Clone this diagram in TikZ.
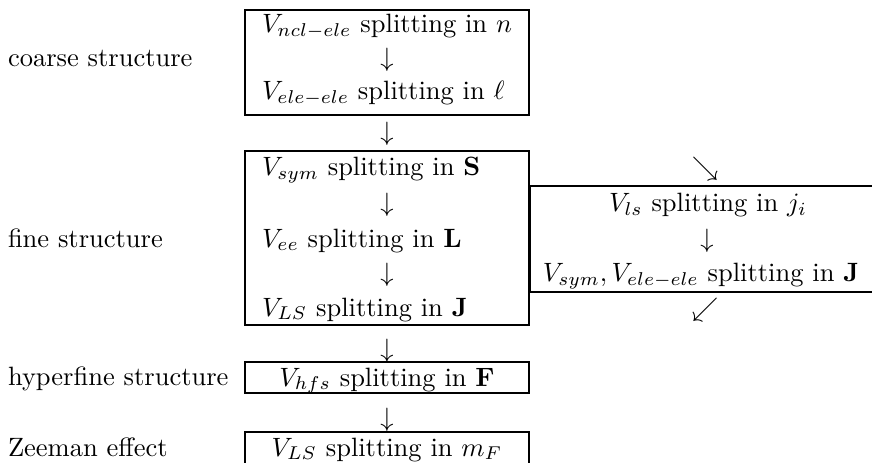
\documentclass[tikz,border=0pt]{standalone}
\usepackage{amsmath}
\usepackage{amssymb}

\begin{document}
\begin{tikzpicture}[x=0.3774pt,y=-0.3774pt,inner sep=0pt,outer sep=0pt,
  lbl/.style={anchor=base west},
  ctr/.style={anchor=base},
  frame/.style={line width=0.4pt}]
  \useasboundingbox (0,0) rectangle (872,463);
  % row labels
  \node[lbl] (coarse) at (8,67) {coarse structure};
  \node[lbl] (fine) at (8,247) {fine structure};
  \node[lbl] (hyper) at (8,385) {hyperfine structure};
  \node[lbl] (zeeman) at (8,456) {Zeeman effect};
  % coarse structure
  \draw[frame] (245,10) rectangle (529,115);
  \node[lbl] (ncl) at (262,33) {$V_{ncl-ele}$ splitting in $n$};
  \node[ctr] (arrA) at (387,67) {$\downarrow$};
  \node[lbl] (ele) at (262,100) {$V_{ele-ele}$ splitting in $\ell$};
  \node[ctr] (arrB) at (387,141) {$\downarrow$};
  % fine structure
  \draw[frame] (245,151) rectangle (529,325);
  \node[lbl] (sym) at (262,176) {$V_{sym}$ splitting in $\mathbf{S}$};
  \node[ctr] (arrC) at (387,212) {$\downarrow$};
  \node[lbl] (ee) at (262,247) {$V_{ee}$ splitting in $\mathbf{L}$};
  \node[ctr] (arrD) at (387,282) {$\downarrow$};
  \node[lbl] (LS) at (262,316) {$V_{LS}$ splitting in $\mathbf{J}$};
  % jj coupling branch
  \draw[frame] (872,186) -- (530,186) -- (530,292) -- (872,292);
  \node[ctr] (arrE) at (705,176) {$\searrow$};
  \node[ctr] (ls) at (708,212) {$V_{ls}$ splitting in $j_i$};
  \node[ctr] (arrF) at (707,247) {$\downarrow$};
  \node[ctr] (symele) at (701,282) {$V_{sym},V_{ele-ele}$ splitting in $\mathbf{J}$};
  \node[ctr] (arrG) at (705,316) {$\swarrow$};
  % hyperfine structure
  \node[ctr] (arrH) at (387,357) {$\downarrow$};
  \draw[frame] (245,362) rectangle (529,393);
  \node[ctr] (hfs) at (387,386) {$V_{hfs}$ splitting in $\mathbf{F}$};
  % Zeeman effect
  \node[ctr] (arrI) at (387,426) {$\downarrow$};
  \draw[frame] (245,463) -- (245,432) -- (529,432) -- (529,463);
  \node[ctr] (mF) at (387,456) {$V_{LS}$ splitting in $m_F$};
\end{tikzpicture}
\end{document}
